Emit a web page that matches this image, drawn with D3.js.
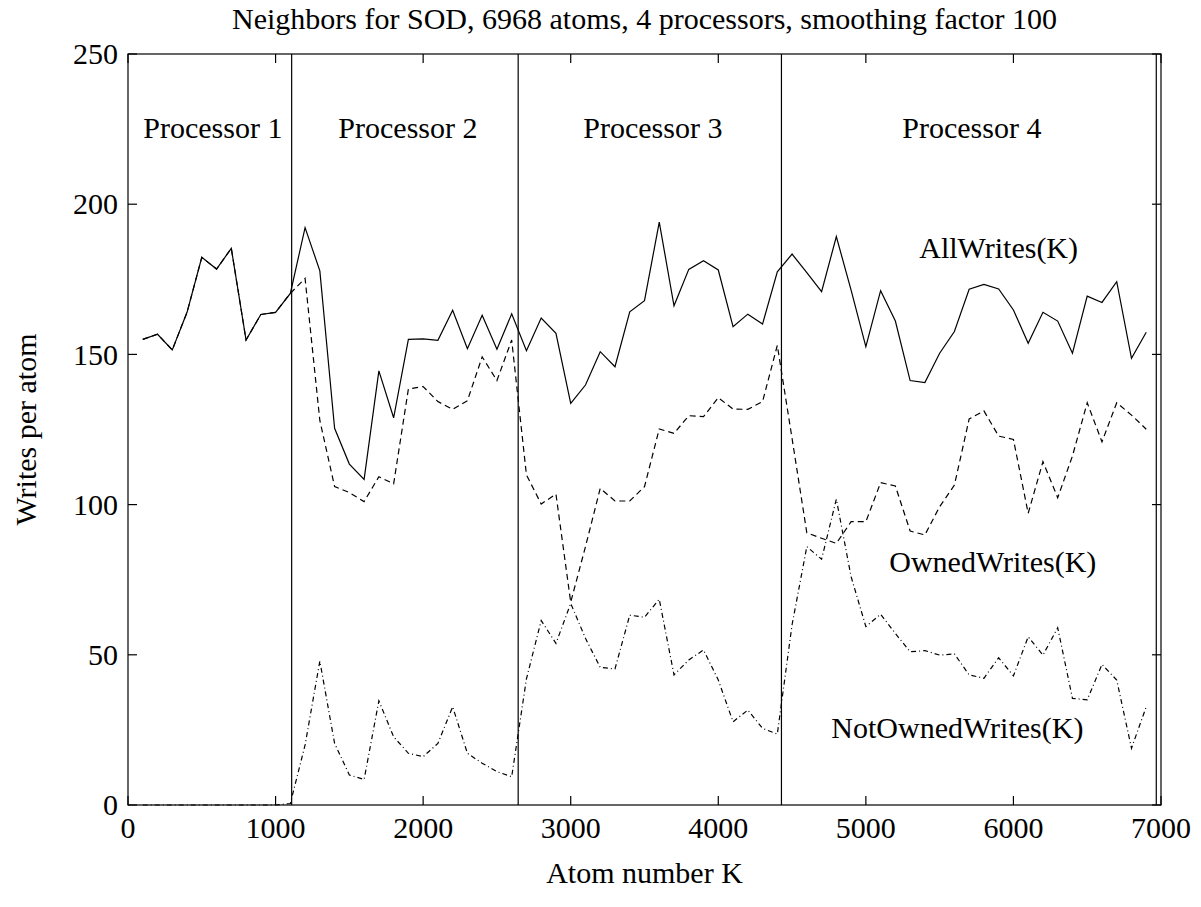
<!DOCTYPE html>
<html>
<head>
<meta charset="utf-8">
<script src="https://cdn.jsdelivr.net/npm/d3@7"></script>
<style>
  body { margin: 0; background: #fff; }
  svg { display: block; }
  text { font-family: "Liberation Serif", "Times New Roman", serif; fill: #000; }
</style>
</head>
<body>
<div class="canvas"></div>
<script>
// atom number K (every 100 atoms)
const atoms = [100,200,300,400,500,600,700,800,900,1000,1100,1200,1300,1400,1500,1600,1700,1800,1900,2000,
  2100,2200,2300,2400,2500,2600,2700,2800,2900,3000,3100,3200,3300,3400,3500,3600,3700,3800,3900,4000,
  4100,4200,4300,4400,4500,4600,4700,4800,4900,5000,5100,5200,5300,5400,5500,5600,5700,5800,5900,6000,
  6100,6200,6300,6400,6500,6600,6700,6800,6900];

const allWrites = [155.0,156.7,151.5,164.0,182.3,178.4,185.3,154.8,163.3,164.0,170.3,192.2,177.8,125.4,113.5,108.4,144.5,128.9,155.0,155.2,
  154.7,164.7,151.9,163.0,151.7,163.5,151.2,162.1,157.0,133.7,139.8,150.9,145.9,164.2,167.9,194.0,166.2,178.3,181.2,178.1,
  159.2,163.4,160.1,177.5,183.4,177.2,170.9,189.2,171.4,152.6,171.2,161.1,141.3,140.6,150.4,157.6,171.7,173.3,171.8,164.8,
  153.7,164.0,161.1,150.4,169.4,167.3,174.2,148.7,157.4];

const ownedWrites = [155.0,156.7,151.5,164.0,182.3,178.4,185.3,154.8,163.3,164.0,170.3,175.3,128.0,106.0,104.0,101.0,109.3,106.9,138.5,139.3,
  134.3,131.7,134.6,149.2,141.3,154.8,109.9,100.2,103.5,67.5,86.0,105.4,101.2,101.2,106.0,125.2,123.7,129.6,129.3,135.6,
  131.8,131.7,134.3,153.0,122.0,90.6,88.8,87.1,94.3,94.3,107.3,106.2,91.2,89.9,99.3,106.5,128.5,131.2,122.8,121.7,
  97.1,114.3,102.3,116.2,133.9,120.9,133.9,129.8,125.1];

const notOwnedWrites = [0,0,0,0,0,0,0,0,0,0,0.5,20.0,47.9,20.5,10.0,8.5,34.7,22.7,17.2,16.1,
  20.5,32.7,17.2,13.9,11.1,9.4,42.0,61.4,53.8,67.1,55.5,45.8,45.3,63.2,62.5,68.5,43.3,48.3,51.6,41.6,
  27.7,31.6,25.5,23.6,60.0,86.0,81.8,101.8,76.0,59.4,63.5,57.1,51.0,51.4,49.9,50.3,43.3,42.2,49.0,43.0,
  56.0,49.9,59.0,35.5,35.0,46.8,41.6,18.9,32.7];

// processor boundaries in atom numbers
const procBounds = [0, 1109, 2644, 4428, 6968];
const procNames = ['Processor 1', 'Processor 2', 'Processor 3', 'Processor 4'];

const xTicks = [0,1000,2000,3000,4000,5000,6000,7000];
const yTicks = [0,50,100,150,200,250];

const title = 'Neighbors for SOD, 6968 atoms, 4 processors, smoothing factor 100';

const W = 1201, H = 907;
const m = { left: 128, top: 54, right: 1161, bottom: 805 };
const fs = 30;

const svg = d3.select('.canvas')
  .append('svg')
  .attr('width', W)
  .attr('height', H);

const x = d3.scaleLinear().domain([0, 7000]).range([m.left, m.right]);
const y = d3.scaleLinear().domain([0, 250]).range([m.bottom, m.top]);

// box
svg.append('rect')
  .attr('x', m.left).attr('y', m.top)
  .attr('width', m.right - m.left).attr('height', m.bottom - m.top)
  .attr('fill', 'none').attr('stroke', '#000').attr('stroke-width', 1.2);

// ticks (inward, on all four sides)
const tk = 9;
const ticks = svg.append('g').attr('stroke', '#000').attr('stroke-width', 1.2);
xTicks.forEach(t => {
  ticks.append('line').attr('x1', x(t)).attr('x2', x(t)).attr('y1', m.bottom).attr('y2', m.bottom - tk);
  ticks.append('line').attr('x1', x(t)).attr('x2', x(t)).attr('y1', m.top).attr('y2', m.top + tk);
});
yTicks.forEach(t => {
  ticks.append('line').attr('x1', m.left).attr('x2', m.left + tk).attr('y1', y(t)).attr('y2', y(t));
  ticks.append('line').attr('x1', m.right).attr('x2', m.right - tk).attr('y1', y(t)).attr('y2', y(t));
});

svg.append('g').selectAll('text')
  .data(xTicks)
  .enter().append('text')
  .attr('x', d => x(d))
  .attr('y', 838)
  .attr('text-anchor', 'middle')
  .attr('font-size', fs)
  .text(d => d);

svg.append('g').selectAll('text')
  .data(yTicks)
  .enter().append('text')
  .attr('x', m.left - 10)
  .attr('y', d => y(d))
  .attr('dy', '0.34em')
  .attr('text-anchor', 'end')
  .attr('font-size', fs)
  .text(d => d);

// processor dividers
svg.append('g').selectAll('line')
  .data(procBounds.slice(1))
  .enter().append('line')
  .attr('x1', d => x(d)).attr('x2', d => x(d))
  .attr('y1', m.top).attr('y2', m.bottom)
  .attr('stroke', '#000').attr('stroke-width', 1.2);

svg.append('g').selectAll('text')
  .data(procNames)
  .enter().append('text')
  .attr('x', (d, i) => x((procBounds[i] + procBounds[i + 1]) / 2) + 3)
  .attr('y', y(222))
  .attr('text-anchor', 'middle')
  .attr('font-size', fs)
  .text(d => d);

// series
const series = [
  { name: 'AllWrites(K)', values: allWrites, dash: null, lx: 5900, ly: 182 },
  { name: 'OwnedWrites(K)', values: ownedWrites, dash: '6,4', lx: 5860, ly: 77.5 },
  { name: 'NotOwnedWrites(K)', values: notOwnedWrites, dash: '5,3,1,3', lx: 5620, ly: 22.3 }
];

const line = d3.line()
  .x((d, i) => x(atoms[i]))
  .y(d => y(d));

svg.append('g').selectAll('path')
  .data(series)
  .enter().append('path')
  .attr('d', d => line(d.values))
  .attr('fill', 'none')
  .attr('stroke', '#000')
  .attr('stroke-width', 1.2)
  .attr('stroke-dasharray', d => d.dash);

svg.append('g').selectAll('text')
  .data(series)
  .enter().append('text')
  .attr('x', d => x(d.lx))
  .attr('y', d => y(d.ly))
  .attr('text-anchor', 'middle')
  .attr('font-size', fs)
  .text(d => d.name);

// titles
svg.append('text')
  .attr('x', (m.left + m.right) / 2)
  .attr('y', 29)
  .attr('text-anchor', 'middle')
  .attr('font-size', fs)
  .text(title);

svg.append('text')
  .attr('x', (m.left + m.right) / 2)
  .attr('y', 883)
  .attr('text-anchor', 'middle')
  .attr('font-size', fs)
  .text('Atom number K');

svg.append('text')
  .attr('transform', `translate(36, ${(m.top + m.bottom) / 2}) rotate(-90)`)
  .attr('text-anchor', 'middle')
  .attr('font-size', fs)
  .text('Writes per atom');
</script>
</body>
</html>
